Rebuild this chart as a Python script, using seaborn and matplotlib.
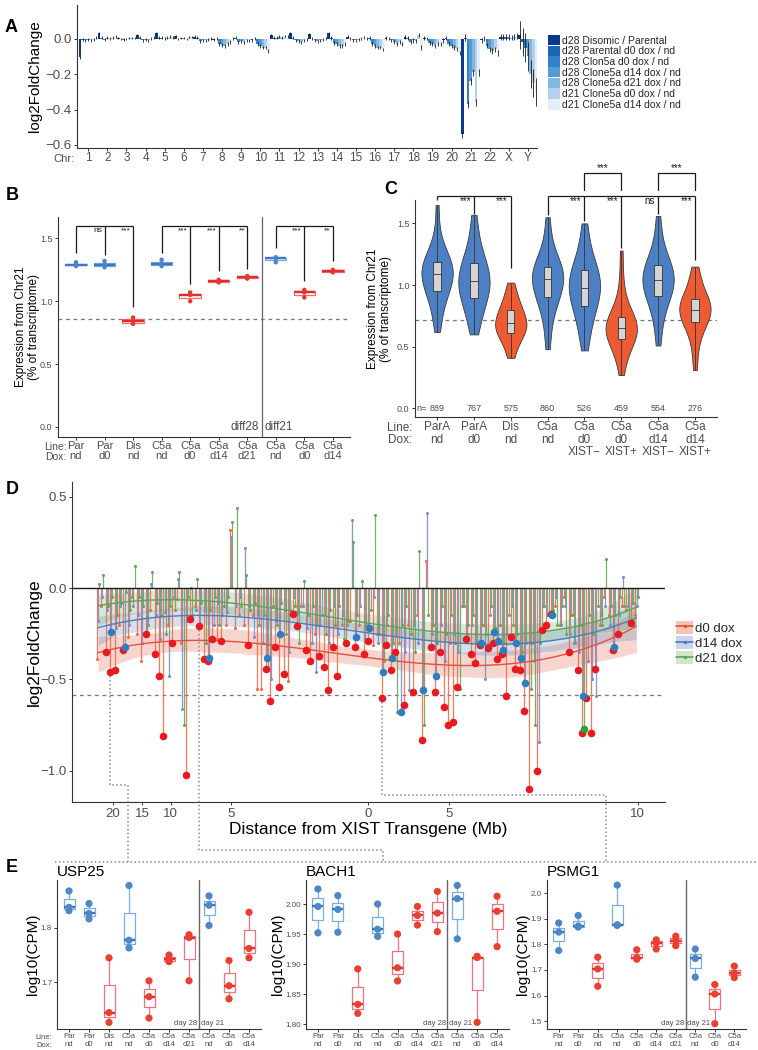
import numpy as np
import pandas as pd
import matplotlib
matplotlib.use("Agg")
import matplotlib.pyplot as plt
from matplotlib.lines import Line2D
from matplotlib.patches import Patch
from matplotlib.collections import PolyCollection
import seaborn as sns

W, H = 758, 1050
GREY = "#4d4d4d"
INK = "#1a1a1a"

# ================= Panel A data =================
A_CHROMS = [str(i) for i in range(1, 23)] + ["X", "Y"]
A_CONDITIONS = ["d28 Disomic / Parental", "d28 Parental d0 dox / nd", "d28 Clon5a d0 dox / nd",
                "d28 Clone5a d14 dox / nd", "d28 Clone5a d21 dox / nd", "d21 Clone5a d0 dox / nd",
                "d21 Clone5a d14 dox / nd"]
A_COLORS = ["#0b3a8c", "#1866b4", "#3082c6", "#559bd3", "#84b7df", "#b3d1ec", "#e4eef8"]
a_dis_par = [-0.105, 0.030, 0.005, 0.020, 0.030, 0.015, 0.010, -0.005, 0.000, -0.010, 0.020, 0.030,
             0.025, 0.030, 0.010, 0.000, 0.005, 0.010, 0.005, -0.010, -0.540, -0.010, 0.010, 0.020]
a_par_d0 = [-0.005, 0.005, 0.000, 0.005, 0.005, 0.000, 0.005, 0.000, 0.005, 0.000, 0.005, 0.005,
            0.000, 0.005, 0.000, 0.005, 0.000, 0.005, 0.000, 0.005, 0.005, 0.000, 0.010, -0.020]
a_c5_d0 = [-0.010, -0.005, -0.005, -0.010, 0.005, 0.005, -0.015, -0.030, -0.020, -0.030, 0.005, -0.010,
           -0.010, -0.025, -0.010, -0.030, -0.010, -0.020, -0.025, -0.030, -0.370, -0.040, 0.010, -0.050]
a_c5_d14 = [-0.005, 0.005, 0.000, -0.005, 0.000, 0.005, -0.010, -0.035, -0.015, -0.040, 0.010, -0.015,
            -0.015, -0.030, -0.010, -0.040, -0.020, -0.010, -0.030, -0.040, -0.240, -0.060, 0.010, -0.100]
a_c5_d21 = [-0.010, 0.000, 0.005, -0.010, 0.005, 0.000, -0.010, -0.040, -0.020, -0.050, 0.005, -0.020,
            -0.010, -0.040, -0.005, -0.050, -0.030, -0.015, -0.040, -0.050, -0.190, -0.070, 0.005, -0.200]
a_d21_d0 = [-0.005, 0.005, 0.005, 0.000, 0.010, 0.010, -0.005, -0.030, -0.010, -0.050, 0.015, -0.010,
            -0.005, -0.040, 0.000, -0.050, -0.020, 0.020, -0.030, -0.060, -0.360, -0.060, 0.010, -0.250]
a_d21_d14 = [0.005, 0.010, 0.005, 0.005, 0.005, 0.010, 0.000, -0.020, -0.010, -0.070, 0.010, -0.005,
             0.000, -0.030, 0.005, -0.060, -0.030, -0.050, -0.030, -0.080, -0.190, -0.080, 0.015, -0.300]
a_err = [0.008, 0.008, 0.006, 0.008, 0.008, 0.006, 0.008, 0.010, 0.008, 0.010, 0.008, 0.008,
         0.008, 0.010, 0.008, 0.010, 0.010, 0.012, 0.010, 0.012, 0.020, 0.015, 0.015, 0.080]

# ================= Panel B data =================
B_KEYS = ["Par_nd", "Par_d0", "Dis_nd", "C5a_nd", "C5a_d0", "C5a_d14", "C5a_d21",
          "C5a_nd_21", "C5a_d0_21", "C5a_d14_21"]
B_LABELS = ["Par\nnd", "Par\nd0", "Dis\nnd", "C5a\nnd", "C5a\nd0", "C5a\nd14", "C5a\nd21",
            "C5a\nnd", "C5a\nd0", "C5a\nd14"]
B_GROUP = ["tri", "tri", "dis", "tri", "dis", "dis", "dis", "tri", "dis", "dis"]
b_values = [[1.28, 1.29, 1.31], [1.27, 1.29, 1.32], [0.82, 0.84, 0.87], [1.28, 1.30, 1.33],
            [1.00, 1.05, 1.07], [1.15, 1.16, 1.17], [1.18, 1.19, 1.20], [1.31, 1.34, 1.35],
            [1.03, 1.07, 1.09], [1.23, 1.24, 1.25]]
b_dashed = 0.86
b_brackets = [(0, 1.38, [1, 2], [1.37, 0.955], ["ns", "***"]),
              (3, 1.38, [4, 5, 6], [1.14, 1.24, 1.26], ["***", "***", "**"]),
              (7, 1.42, [8, 9], [1.16, 1.32], ["***", "**"])]
b_bracket_top = 1.595

# ================= Panel C data =================
C_KEYS = ["ParA_nd", "ParA_d0", "Dis_nd", "C5a_nd", "C5a_d0_neg", "C5a_d0_pos", "C5a_d14_neg", "C5a_d14_pos"]
C_LABELS = ["ParA\nnd", "ParA\nd0", "Dis\nnd", "C5a\nnd", "C5a\nd0\nXIST\u2212", "C5a\nd0\nXIST+",
            "C5a\nd14\nXIST\u2212", "C5a\nd14\nXIST+"]
C_GROUP = ["tri", "tri", "dis", "tri", "tri", "dis", "tri", "dis"]
C_N = [889, 767, 575, 860, 526, 459, 554, 276]
c_parA_nd = [0.62, 0.72, 0.80, 0.87, 0.91, 0.94, 0.97, 1.00, 1.02, 1.05, 1.07, 1.09, 1.11, 1.12, 1.14,
             1.16, 1.18, 1.20, 1.23, 1.26, 1.31, 1.42, 1.65]
c_parA_d0 = [0.60, 0.68, 0.74, 0.80, 0.84, 0.88, 0.91, 0.94, 0.96, 0.98, 1.01, 1.03, 1.05, 1.08, 1.10,
             1.13, 1.16, 1.19, 1.23, 1.27, 1.34, 1.44, 1.57]
c_dis_nd = [0.41, 0.47, 0.52, 0.56, 0.59, 0.60, 0.62, 0.64, 0.65, 0.67, 0.68, 0.69, 0.71, 0.73, 0.75,
            0.77, 0.79, 0.81, 0.84, 0.87, 0.91, 0.96, 1.02]
c_c5a_nd = [0.48, 0.62, 0.74, 0.81, 0.85, 0.89, 0.92, 0.95, 0.98, 1.00, 1.03, 1.05, 1.07, 1.08, 1.10,
            1.12, 1.14, 1.16, 1.19, 1.23, 1.28, 1.40, 1.55]
c_c5a_d0_neg = [0.47, 0.58, 0.65, 0.72, 0.77, 0.81, 0.85, 0.88, 0.91, 0.94, 0.96, 0.98, 1.00, 1.03, 1.06,
                1.08, 1.11, 1.14, 1.17, 1.21, 1.28, 1.38, 1.50]
c_c5a_d0_pos = [0.27, 0.38, 0.45, 0.49, 0.52, 0.55, 0.57, 0.59, 0.61, 0.63, 0.64, 0.65, 0.67, 0.68, 0.70,
                0.71, 0.73, 0.76, 0.79, 0.84, 0.92, 1.06, 1.28]
c_c5a_d14_neg = [0.51, 0.64, 0.75, 0.81, 0.86, 0.90, 0.93, 0.95, 0.98, 1.00, 1.02, 1.04, 1.06, 1.08, 1.10,
                 1.12, 1.15, 1.17, 1.20, 1.24, 1.30, 1.42, 1.56]
c_c5a_d14_pos = [0.31, 0.45, 0.55, 0.62, 0.66, 0.69, 0.71, 0.73, 0.75, 0.77, 0.79, 0.80, 0.82, 0.83, 0.85,
                 0.86, 0.88, 0.90, 0.93, 0.97, 1.03, 1.09, 1.15]
c_dashed = 0.72
c_brackets = [(0, 1.69, [1, 2], [1.58, 1.14], ["***", "***"]),
              (3, 1.57, [4, 5, 6, 7], [1.52, 1.30, 1.58, 1.20], ["***", "***", "ns", "***"])]
c_bracket_top = 1.72
c_upper = [(4, 5), (6, 7)]
c_upper_top = 1.905

# ================= Panel D data (genes ordered along Chr21) =================
d_lfc_d0 = [
    -0.39, -0.10, -0.35, -0.46, -0.45, -0.20, -0.34, -0.27, -0.05, -0.25,
    -0.40, -0.25, -0.12, -0.36, -0.48, -0.81, -0.20, -0.30, -0.06, -0.30,
    -1.02, -0.17, -0.10, -0.21, -0.39, -0.40, -0.28, -0.28, -0.29, -0.20,
    0.32, -0.22, -0.15, -0.20, -0.31, -0.15, -0.55, -0.55, -0.44, -0.62,
    -0.32, -0.54, -0.47, -0.51, -0.14, -0.21, -0.10, -0.34, -0.40, -0.25,
    -0.37, -0.43, -0.56, -0.32, -0.48, -0.20, -0.30, -0.18, -0.32, -0.20,
    -0.36, -0.29, -0.31, -0.25, -0.60, -0.31, -0.45, -0.35, -0.30, -0.64,
    -0.20, -0.57, -0.15, -0.83, 0.15, -0.32, -0.57, -0.35, -0.65, -0.75,
    -0.73, -0.54, -0.10, -0.28, -0.36, -0.41, -0.31, -0.20, -0.33, -0.30,
    -0.39, -0.36, -0.59, -0.27, -0.44, -0.45, -0.67, -1.10, -0.30, -1.00,
    -0.23, -0.20, -0.14, -0.10, -0.20, -0.05, -0.35, -0.15, -0.45, -0.79,
    -0.60, -0.79, -0.44, -0.20, -0.05, -0.15, -0.34, -0.25, -0.10, -0.12,
    -0.19, -0.15]
d_lfc_d14 = [
    -0.18, -0.05, -0.12, -0.24, -0.22, -0.10, -0.32, -0.20, -0.10, -0.15,
    -0.30, -0.25, 0.02, -0.15, -0.28, -0.13, -0.48, -0.05, 0.05, -0.66,
    -0.18, 0.00, -0.12, -0.22, -0.12, -0.38, -0.20, -0.08, -0.15, -0.13,
    0.28, -0.10, -0.05, 0.22, -0.10, -0.27, -0.15, -0.30, -0.38, -0.50,
    -0.18, -0.25, -0.12, -0.35, -0.05, -0.14, -0.10, -0.22, -0.30, -0.46,
    -0.20, -0.15, -0.30, -0.10, -0.25, -0.15, -0.20, 0.37, -0.27, -0.10,
    -0.28, -0.22, -0.05, -0.30, -0.46, -0.20, -0.38, -0.25, -0.68, -0.35,
    -0.56, -0.20, -0.30, -0.56, 0.41, -0.25, -0.48, -0.20, -0.40, -0.30,
    -0.25, -0.35, -0.10, -0.25, -0.20, -0.30, -0.30, -0.50, -0.15, -0.24,
    -0.29, -0.34, -0.25, -0.10, -0.30, -0.38, -0.52, -0.30, -0.40, -0.84,
    -0.10, -0.15, -0.15, -0.05, -0.20, -0.10, -0.25, -0.30, -0.35, -0.59,
    -0.40, -0.50, -0.59, -0.15, -0.10, -0.20, -0.32, -0.15, 0.06, -0.10,
    -0.08, -0.10]
d_lfc_d21 = [
    0.02, 0.07, -0.10, -0.05, -0.15, -0.08, -0.02, -0.12, 0.12, -0.05,
    -0.10, -0.20, 0.09, -0.08, -0.15, -0.25, -0.10, -0.12, 0.09, -0.75,
    -0.05, -0.15, 0.05, -0.08, -0.30, -0.12, -0.05, -0.20, -0.10, -0.05,
    0.36, 0.44, -0.10, 0.07, -0.12, -0.08, -0.20, -0.15, -0.45, -0.10,
    -0.20, -0.08, -0.25, -0.12, -0.10, -0.30, 0.04, -0.15, -0.10, -0.20,
    -0.15, -0.25, -0.12, -0.20, -0.10, -0.28, -0.18, 0.25, -0.15, 0.04,
    -0.20, -0.12, 0.40, -0.25, -0.40, -0.15, -0.30, -0.68, -0.20, -0.10,
    -0.25, -0.35, 0.20, -0.75, -0.15, -0.20, -0.30, -0.10, -0.25, -0.15,
    -0.30, -0.55, -0.10, -0.20, -0.15, -0.30, -0.20, -0.25, -0.10, -0.22,
    -0.20, -0.30, -0.15, -0.20, -0.25, -0.35, -0.30, -0.55, -0.75, -0.30,
    -0.10, -0.15, -0.12, -0.20, -0.10, -0.25, -0.15, -0.30, -0.20, -0.77,
    -0.15, -0.25, -0.10, -0.20, 0.16, -0.10, -0.15, -0.05, -0.10, -0.20,
    -0.08, -0.05]
d_sig_d0 = [2, 3, 4, 6, 11, 13, 14, 15, 17, 20, 21, 23, 24, 25, 26, 28, 34, 38, 39, 40, 41, 42, 44, 45,
            47, 48, 50, 51, 52, 53, 54, 56, 58, 60, 61, 64, 65, 66, 67, 69, 71, 73, 75, 76, 77, 78, 79,
            80, 81, 83, 84, 85, 86, 88, 89, 90, 91, 92, 93, 94, 95, 96, 97, 99, 100, 101, 102, 106,
            108, 109, 110, 111, 112, 116, 117, 120]
d_sig_d14 = [3, 6, 25, 38, 41, 58, 61, 64, 66, 68, 73, 76, 86, 89, 90, 91, 94, 95, 96, 102, 109, 116]
d_sig_d21 = [109]
D_TICK_POS = [3.4, 9.9, 16.4, 29.9, 60.7, 78.9, 121.3]
D_TICK_LAB = ["20", "15", "10", "5", "0", "5", "10"]
d_dashed = -0.585
D_LINKS = {"USP25": 3, "BACH1": 23, "PSMG1": 64}

# ================= Panel E data =================
E_GENES = ["USP25", "BACH1", "PSMG1"]
e_usp25 = [[1.831, 1.837, 1.867], [1.816, 1.826, 1.844], [1.627, 1.645, 1.745], [1.763, 1.777, 1.877],
           [1.635, 1.674, 1.703], [1.738, 1.742, 1.750], [1.703, 1.782, 1.787], [1.804, 1.841, 1.858],
           [1.670, 1.694, 1.740], [1.745, 1.762, 1.828]]
e_bach1 = [[1.952, 1.996, 2.025], [1.953, 1.991, 2.014], [1.818, 1.833, 1.892], [1.946, 1.958, 2.000],
           [1.872, 1.894, 1.950], [1.965, 1.981, 1.996], [1.954, 1.985, 2.021], [1.942, 2.009, 2.031],
           [1.803, 1.911, 1.913], [1.929, 1.988, 2.013]]
e_psmg1 = [[1.776, 1.848, 1.884], [1.868, 1.872, 1.913], [1.636, 1.704, 1.750], [1.874, 1.877, 2.032],
           [1.742, 1.748, 1.779], [1.782, 1.806, 1.818], [1.795, 1.815, 1.832], [1.672, 1.745, 1.782],
           [1.490, 1.606, 1.643], [1.670, 1.687, 1.715]]
e_ylims = [(1.615, 1.887), (1.792, 2.04), (1.469, 2.052)]
e_yticks = [[1.7, 1.8], [1.80, 1.85, 1.90, 1.95, 2.00], [1.5, 1.6, 1.7, 1.8, 1.9, 2.0]]
e_fmt = ["{:.1f}", "{:.2f}", "{:.1f}"]

# ================= style =================
sns.set_theme(style="ticks")
plt.rcParams["font.family"] = ["Liberation Sans", "DejaVu Sans"]
plt.rcParams["axes.linewidth"] = 0.8
plt.rcParams["axes.edgecolor"] = "#333333"
plt.rcParams["xtick.color"] = "#333333"
plt.rcParams["ytick.color"] = "#333333"
plt.rcParams["xtick.labelcolor"] = GREY
plt.rcParams["ytick.labelcolor"] = GREY

fig = plt.figure(figsize=(W / 100, H / 100), dpi=100)


def add_ax(x0, y0, x1, y1):
    return fig.add_axes([x0 / W, 1 - y1 / H, (x1 - x0) / W, (y1 - y0) / H])


def finish(ax, size, pad=1.5):
    sns.despine(ax=ax)
    ax.tick_params(labelsize=size, length=2.5, width=0.7, pad=pad)


def ylabel_at(ax, text, right_px, fs, ls=1.1):
    ax.set_ylabel(text, fontsize=fs, color="black", linespacing=ls)
    x0 = ax.get_position().x0 * W
    ax.yaxis.set_label_coords((right_px - x0) / (ax.get_position().width * W), 0.5)


def fig_line(pts, **kw):
    fig.add_artist(Line2D([p[0] / W for p in pts], [1 - p[1] / H for p in pts],
                          transform=fig.transFigure, **kw))


def brackets(ax, specs, ytop, fs, dy):
    kw = dict(color=INK, lw=0.9, clip_on=False, solid_capstyle="butt")
    for x0, drop0, xs, drops, labels in specs:
        ax.plot([x0, xs[-1]], [ytop, ytop], **kw)
        ax.plot([x0, x0], [ytop, drop0], **kw)
        for x, d, lab in zip(xs, drops, labels):
            ax.plot([x, x], [ytop, d], **kw)
            ax.text(x - 0.08, ytop - dy, lab, ha="right", va="center", fontsize=fs, color=INK, clip_on=False)


def box_strip(ax, keys, groups, values, width, lw, dot, box_cols, med_cols, pt_cols):
    df = pd.DataFrame([(k, g, v) for k, g, vals in zip(keys, groups, values) for v in vals],
                      columns=["key", "grp", "val"])
    for g in ["tri", "dis"]:
        sub = df[df["grp"] == g]
        sns.boxplot(data=sub, x="key", y="val", order=keys, color=box_cols[g], fill=False, width=width,
                    linewidth=lw, showfliers=False, showcaps=False, saturation=1,
                    medianprops=dict(color=med_cols[g], linewidth=lw * 1.9), ax=ax)
    sns.stripplot(data=df, x="key", y="val", hue="grp", order=keys, hue_order=["tri", "dis"],
                  palette=pt_cols, jitter=False, dodge=False, size=dot, legend=False, ax=ax, zorder=4,
                  linewidth=0)


def line_dox(ax, text, xoff, fs, ls):
    ax.annotate(text, xy=(0, 0), xycoords="axes fraction", xytext=(xoff, -3.5),
                textcoords="offset points", ha="right", va="top", fontsize=fs, color=GREY,
                linespacing=ls, annotation_clip=False)


# ================= Panel A =================
a_series = [a_dis_par, a_par_d0, a_c5_d0, a_c5_d14, a_c5_d21, a_d21_d0, a_d21_d14]
dfA = pd.DataFrame([(c, cond, v) for cond, vals in zip(A_CONDITIONS, a_series)
                    for c, v in zip(A_CHROMS, vals)], columns=["chr", "cond", "lfc"])
axA = add_ax(77, 5, 537, 148)
sns.barplot(data=dfA, x="chr", y="lfc", hue="cond", order=A_CHROMS, hue_order=A_CONDITIONS,
            palette=A_COLORS, width=1.0, errorbar=None, saturation=1, linewidth=0, legend=False, ax=axA)
nh = len(A_CONDITIONS)
for p in list(axA.patches):
    cx = p.get_x() + p.get_width() / 2
    ci = int(round(cx))
    k = min(int((cx - ci + 0.5) * nh), nh - 1)
    v = a_series[k][ci]
    e = a_err[ci]
    axA.vlines(cx, v - e, v + e, color=INK, lw=0.6, zorder=3)
axA.set_ylim(-0.617, 0.19)
axA.set_xlim(-0.585, 23.47)
axA.set_yticks([0.0, -0.2, -0.4, -0.6])
axA.set_yticklabels(["0.0", "\u22120.2", "\u22120.4", "\u22120.6"])
axA.set_xlabel("")
finish(axA, 9.5)
ylabel_at(axA, "log2FoldChange", 42, 11)
axA.tick_params(axis="x", labelsize=8.5, length=2, pad=1)
fig.text(74 / W, 1 - 158.5 / H, "Chr:", ha="right", va="center", fontsize=8, color=GREY)
fig.legend([Patch(facecolor=c, edgecolor="none") for c in A_COLORS], A_CONDITIONS, loc="upper left",
           bbox_to_anchor=(548 / W, 1 - 35 / H), frameon=False, fontsize=7.5, handlelength=1.15,
           handleheight=1.15, handletextpad=0.15, labelspacing=0.0, borderpad=0, borderaxespad=0)

# ================= Panel B =================
BOX_COLS = {"tri": "#76a9dd", "dis": "#ee6f74"}
MED_COLS = {"tri": "#3f78c2", "dis": "#e52a2a"}
PT_COLS = {"tri": "#4a84c8", "dis": "#e8362a"}
axB = add_ax(58, 217, 350, 437)
box_strip(axB, B_KEYS, B_GROUP, b_values, 0.75, 0.9, 3.2, BOX_COLS, MED_COLS, PT_COLS)
axB.axhline(b_dashed, color="#777777", lw=0.9, ls=(0, (3, 3)), zorder=1)
axB.axvline(6.5, color="#666666", lw=0.9, zorder=1)
axB.set_xlim(-0.63, 9.6)
axB.set_ylim(-0.08, 1.67)
axB.set_yticks([0.0, 0.5, 1.0, 1.5])
axB.set_yticklabels(["0.0", "0.5", "1.0", "1.5"])
axB.set_xticks(range(len(B_KEYS)))
axB.set_xticklabels(B_LABELS, linespacing=1.0)
axB.set_xlabel("")
finish(axB, 6.5)
ylabel_at(axB, "Expression from Chr21\n(% of transcriptome)", 40, 8.5)
axB.tick_params(axis="x", labelsize=8, length=2, pad=1)
brackets(axB, b_brackets, b_bracket_top, 6, 0.035)
axB.text(6.42, 0.0, "diff28", ha="right", va="center", fontsize=8.5, color=GREY)
axB.text(6.6, 0.0, "diff21", ha="left", va="center", fontsize=8.5, color=GREY)
line_dox(axB, "Line:\nDox:", 6, 7.5, 1.07)

# ================= Panel C =================
C_COLS = {"tri": "#4c7fc4", "dis": "#ee5a32"}
c_values = [c_parA_nd, c_parA_d0, c_dis_nd, c_c5a_nd, c_c5a_d0_neg, c_c5a_d0_pos, c_c5a_d14_neg, c_c5a_d14_pos]
dfC = pd.DataFrame([(k, g, v) for k, g, vals in zip(C_KEYS, C_GROUP, c_values) for v in vals],
                   columns=["key", "grp", "val"])
axC = add_ax(415, 200, 717, 417)
sns.violinplot(data=dfC, x="key", y="val", hue="grp", order=C_KEYS, hue_order=["tri", "dis"],
               palette=C_COLS, dodge=False, inner=None, cut=0, density_norm="width", width=0.85,
               linewidth=0.6, linecolor="#3a3a3a", saturation=1, legend=False, ax=axC)
sns.boxplot(data=dfC, x="key", y="val", order=C_KEYS, color="#d4d4d4", width=0.2, linewidth=0.6,
            linecolor="#333333", whis=(0, 100), showcaps=False, showfliers=False, saturation=1, ax=axC)
axC.axhline(c_dashed, color="#777777", lw=0.9, ls=(0, (3, 3)), zorder=0.5)
axC.set_xlim(-0.6, 7.6)
axC.set_ylim(-0.07, 1.69)
axC.set_yticks([0.0, 0.5, 1.0, 1.5])
axC.set_yticklabels(["0.0", "0.5", "1.0", "1.5"])
axC.set_xticks(range(len(C_KEYS)))
axC.set_xticklabels(C_LABELS, linespacing=1.05)
axC.set_xlabel("")
finish(axC, 6.5)
ylabel_at(axC, "Expression from Chr21\n(% of transcriptome)", 392, 8.5)
axC.tick_params(axis="x", labelsize=8.5, length=2, pad=1)
for i, n in enumerate(C_N):
    axC.text(i, 0.0, str(n), ha="center", va="center", fontsize=6.5, color=GREY)
axC.text(-0.42, 0.0, "n=", ha="center", va="center", fontsize=6.5, color=GREY)
brackets(axC, c_brackets, c_bracket_top, 7, 0.035)
for xa, xb in c_upper:
    axC.plot([xa, xa, xb, xb], [1.77, c_upper_top, c_upper_top, 1.77], color=INK, lw=0.9, clip_on=False)
    axC.text((xa + xb) / 2, c_upper_top + 0.04, "***", ha="center", va="center", fontsize=7, color=INK)
line_dox(axC, "Line:\nDox:", -2, 8.5, 1.05)

# ================= Panel D =================
axD = add_ax(72, 482, 665, 802)
gene = np.arange(len(d_lfc_d0))
D_SERIES = [("d0 dox", np.array(d_lfc_d0), d_sig_d0, -0.25, "#f36a45", "#e8191f", "#e0533a", "#f6c4b2"),
            ("d14 dox", np.array(d_lfc_d14), d_sig_d14, 0.0, "#7a8ccb", "#2e7ebf", "#4a7ebb", "#c7d6ec"),
            ("d21 dox", np.array(d_lfc_d21), d_sig_d21, 0.25, "#64a85a", "#2ea02c", "#5ba35b", "#cfe7c9")]
for name, vals, sig, off, stem, big, smooth, band in D_SERIES:
    axD.vlines(gene + off, 0, vals, color=stem, lw=0.9, alpha=0.9, zorder=2)
    sns.scatterplot(x=gene + off, y=vals, color=stem, s=5, linewidth=0, ax=axD, zorder=3, legend=False)
for name, vals, sig, off, stem, big, smooth, band in D_SERIES:
    sns.regplot(x=gene, y=vals, order=3, scatter=False, ci=95, n_boot=300, seed=1, truncate=True,
                color=smooth, line_kws=dict(lw=1.0, zorder=4), ax=axD)
for coll in axD.collections:
    if isinstance(coll, PolyCollection):
        coll.set_alpha(0.24)
for name, vals, sig, off, stem, big, smooth, band in D_SERIES:
    sig = np.array(sig)
    sns.scatterplot(x=gene[sig] + off, y=vals[sig], color=big, s=30, linewidth=0, ax=axD, zorder=6,
                    legend=False)
axD.axhline(0, color=INK, lw=1.0, zorder=5)
axD.axhline(d_dashed, color="#777777", lw=0.9, ls=(0, (3, 3)), zorder=1)
axD.set_xlim(-5.8, 127.4)
axD.set_ylim(-1.17, 0.58)
axD.set_yticks([0.5, 0.0, -0.5, -1.0])
axD.set_yticklabels(["0.5", "0.0", "\u22120.5", "\u22121.0"])
axD.set_xticks(D_TICK_POS)
axD.set_xticklabels(D_TICK_LAB)
axD.set_xlabel("Distance from XIST Transgene (Mb)", fontsize=12.5, color="black", labelpad=2)
finish(axD, 9.5)
ylabel_at(axD, "log2FoldChange", 42, 12.5)
d_handles = [(Patch(facecolor=s[7], edgecolor="none"),
              Line2D([], [], color=s[6], lw=1.2, marker=".", markersize=3)) for s in D_SERIES]
fig.legend(d_handles, [s[0] for s in D_SERIES], loc="center left", bbox_to_anchor=(676 / W, 1 - 643 / H),
           frameon=False, fontsize=9.5, handlelength=1.3, handleheight=1.1, handletextpad=0.15,
           labelspacing=0.1, borderpad=0, borderaxespad=0)

# ================= Panel E =================
E_RECTS = [(57, 880, 261, 1029), (306, 880, 509, 1029), (547, 880, 746, 1029)]
E_LABEL_RIGHT = [40, 285, 530]
e_all = [e_usp25, e_bach1, e_psmg1]
E_BOX = {"tri": "#7aaee0", "dis": "#ea7480"}
E_MED = {"tri": "#3a74bd", "dis": "#e2303a"}
E_PT = {"tri": "#4f86c6", "dis": "#e8412f"}
e_axes = []
for gname, rect, lab_r, vals, ylim, yt, fmt in zip(E_GENES, E_RECTS, E_LABEL_RIGHT, e_all, e_ylims,
                                                   e_yticks, e_fmt):
    ax = add_ax(*rect)
    e_axes.append(ax)
    box_strip(ax, B_KEYS, B_GROUP, vals, 0.55, 0.9, 5.2, E_BOX, E_MED, E_PT)
    ax.axvline(6.5, color="#666666", lw=1.0, zorder=1)
    ax.set_xlim(-0.6, 9.6)
    ax.set_ylim(*ylim)
    ax.set_yticks(yt)
    ax.set_yticklabels([fmt.format(t) for t in yt])
    ax.set_xticks(range(len(B_KEYS)))
    ax.set_xticklabels(B_LABELS, linespacing=1.15)
    ax.set_xlabel("")
    finish(ax, 5.8, pad=1)
    ylabel_at(ax, "log10(CPM)", lab_r, 11)
    ax.tick_params(axis="x", labelsize=5.5, length=2, pad=1)
    ax.set_title(gname, loc="left", fontsize=11, pad=3, color="black")
    ax.text(6.42, 0.015, "day 28", transform=ax.get_xaxis_transform(), ha="right", va="bottom",
            fontsize=5.5, color=GREY)
    ax.text(6.58, 0.015, "day 21", transform=ax.get_xaxis_transform(), ha="left", va="bottom",
            fontsize=5.5, color=GREY)
line_dox(e_axes[0], "Line:\nDox:", -3.5, 5.5, 1.15)

# ================= connectors D -> E =================
dot_kw = dict(ls=(0, (1, 1.6)), color="#8a8a8a", lw=1.1)
route = {"USP25": (785, 128), "BACH1": (850, 383), "PSMG1": (795, 606)}
for gname, g in D_LINKS.items():
    xd, yd = axD.transData.transform((g - 0.25, d_lfc_d0[g]))
    px, py = xd, H - yd
    ymid, xend = route[gname]
    fig_line([(px, py + 4), (px, ymid), (xend, ymid), (xend, 862)], **dot_kw)
fig_line([(55, 862), (757, 862)], **dot_kw)

# ================= panel letters =================
for lab, x, y in [("A", 5, 27), ("B", 6, 196), ("C", 384, 190), ("D", 6, 489), ("E", 6, 868)]:
    fig.text(x / W, 1 - y / H, lab, fontsize=13, fontweight="bold", ha="left", va="center", color="black")

fig.savefig("out.png", dpi=100)
